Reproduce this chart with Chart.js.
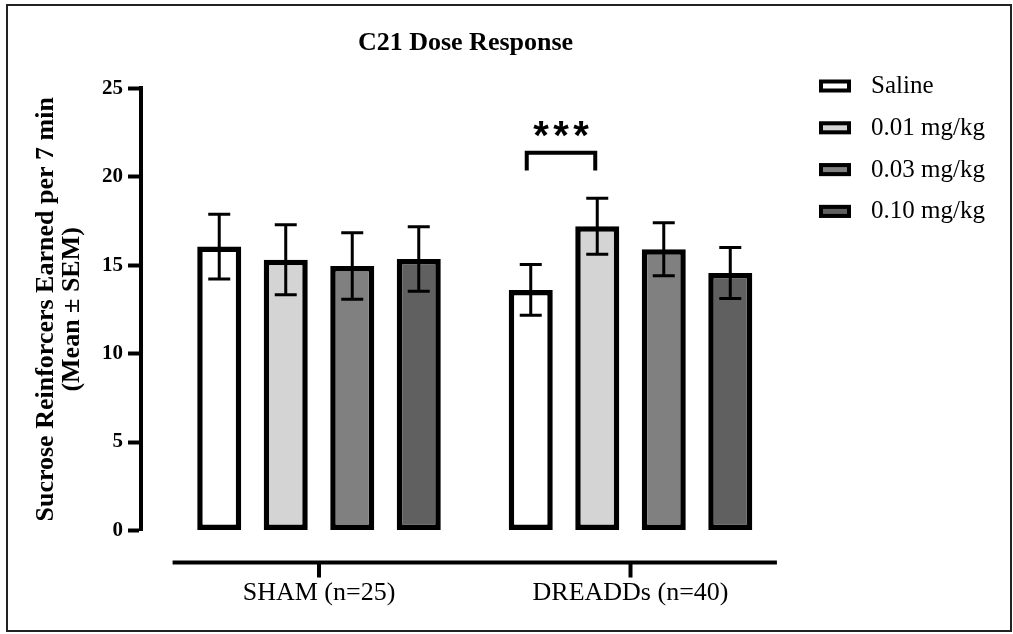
<!DOCTYPE html>
<html>
<head>
<meta charset="utf-8">
<script src="https://cdn.jsdelivr.net/npm/chart.js@4.4.0/dist/chart.umd.min.js"></script>
<style>
  html, body { margin: 0; padding: 0; background: #fff; }
  #caixa { position: relative; width: 1013px; height: 634px; }
  #grafico { display: block; }
  #moldura { position: absolute; left: 6px; top: 4px; width: 1002px; height: 624px; border: 2px solid #222; pointer-events: none; }
</style>
</head>
<body>
<div id="caixa">
  <canvas id="grafico" width="1013" height="634"></canvas>
  <div id="moldura"></div>
</div>
<script>
// Grupos e doses
const grupos = ['SHAM (n=25)', 'DREADDs (n=40)']
const doses = ['Saline', '0.01 mg/kg', '0.03 mg/kg', '0.10 mg/kg']

// Médias e SEM por dose (SHAM, DREADDs)
const mediaSalina = [16.05, 13.6]
const semSalina = [1.83, 1.44]
const media001 = [15.3, 17.2]
const sem001 = [1.98, 1.58]
const media003 = [14.95, 15.9]
const sem003 = [1.88, 1.5]
const media010 = [15.35, 14.55]
const sem010 = [1.82, 1.44]

// Ticks do eixo Y
const ticksY = [0, 5, 10, 15, 20, 25]

// Comparação significativa: DREADDs, Saline x 0.01 mg/kg
const sigGrupo = 1
const sigPar = [0, 1]
const sigTexto = '***'
const sigTopo = 21.35
const sigPerna = 20.35
const sigEstrelas = 22.85

const medias = [mediaSalina, media001, media003, media010]
const sems = [semSalina, sem001, sem003, sem010]
const cores = ['#ffffff', '#d4d4d4', '#808080', '#606060']

const fonteSerif = "'Liberation Serif', 'Times New Roman', serif"
Chart.defaults.font.family = fonteSerif
Chart.defaults.color = '#000'

// barras de erro, colchete, eixo X e legenda
const anotacoes = {
  id: 'anotacoes',
  afterDatasetsDraw(chart) {
    const { ctx, chartArea, scales: { x, y } } = chart
    ctx.save()
    ctx.strokeStyle = '#000'
    ctx.lineCap = 'butt'

    // SEM
    ctx.lineWidth = 3
    chart.data.datasets.forEach((ds, k) => {
      chart.getDatasetMeta(k).data.forEach((barra, i) => {
        const m = ds.data[i].y
        const topo = y.getPixelForValue(m + ds.sem[i])
        const base = y.getPixelForValue(m - ds.sem[i])
        ctx.beginPath()
        ctx.moveTo(barra.x, topo); ctx.lineTo(barra.x, base)
        ctx.moveTo(barra.x - 11, topo); ctx.lineTo(barra.x + 11, topo)
        ctx.moveTo(barra.x - 11, base); ctx.lineTo(barra.x + 11, base)
        ctx.stroke()
      })
    })

    // colchete ***
    const xa = chart.getDatasetMeta(sigPar[0]).data[sigGrupo].x - 4
    const xb = chart.getDatasetMeta(sigPar[1]).data[sigGrupo].x - 2
    const yt = y.getPixelForValue(sigTopo)
    const yp = y.getPixelForValue(sigPerna)
    ctx.lineWidth = 4
    ctx.lineJoin = 'miter'
    ctx.beginPath()
    ctx.moveTo(xa, yp); ctx.lineTo(xa, yt); ctx.lineTo(xb, yt); ctx.lineTo(xb, yp)
    ctx.stroke()
    const xc = (xa + xb) / 2
    const ye = y.getPixelForValue(sigEstrelas)
    ctx.fillStyle = '#000'
    ctx.font = "bold 40px 'Liberation Sans', Arial, sans-serif"
    ctx.textAlign = 'center'
    ctx.textBaseline = 'alphabetic'
    sigTexto.split('').forEach((s, i) => {
      ctx.fillText(s, xc + (i - 1) * 20, ye + 0.58 * 40)
    })

    // eixo X separado do zero
    const yLinha = chartArea.bottom + 32
    ctx.lineWidth = 4
    ctx.beginPath()
    ctx.moveTo(x.getPixelForValue(-0.47), yLinha)
    ctx.lineTo(x.getPixelForValue(1.47), yLinha)
    grupos.forEach((g, i) => {
      const px = x.getPixelForValue(i)
      ctx.moveTo(px, yLinha)
      ctx.lineTo(px, yLinha + 15)
    })
    ctx.stroke()

    // legenda
    const legX = 819, legY = 79.5, passo = 41.8
    ctx.textAlign = 'left'
    ctx.font = '25px ' + fonteSerif
    chart.data.datasets.forEach((ds, k) => {
      const topo = legY + k * passo
      ctx.fillStyle = ds.backgroundColor
      ctx.fillRect(legX, topo, 32, 13)
      ctx.lineWidth = 4
      ctx.strokeRect(legX + 2, topo + 2, 28, 9)
      ctx.fillStyle = '#000'
      ctx.fillText(ds.label, 871, topo + 13.5)
    })
    ctx.restore()
  }
}

const ctx = document.getElementById('grafico')
new Chart(ctx, {
  type: 'bar',
  data: {
    datasets: doses.map((d, k) => ({
      label: d,
      data: grupos.map((g, i) => ({ x: i, y: medias[k][i] })),
      sem: sems[k],
      backgroundColor: cores[k],
      borderColor: '#000',
      borderWidth: 5.5,
      borderSkipped: false,
      categoryPercentage: 0.854,
      barPercentage: 0.662
    }))
  },
  options: {
    responsive: false,
    animation: false,
    layout: { padding: { top: 20, right: 223, bottom: 0, left: 0 } },
    plugins: {
      legend: { display: false },
      tooltip: { enabled: false },
      title: {
        display: true,
        text: 'C21 Dose Response',
        fullSize: false,
        color: '#000',
        font: { size: 26, weight: 'bold' },
        padding: { top: 8, bottom: 29 }
      }
    },
    scales: {
      x: {
        type: 'linear',
        offset: false,
        min: -0.5714,
        max: 1.512,
        grid: { display: false, drawTicks: false, offset: false },
        border: { display: false },
        afterBuildTicks: s => { s.ticks = grupos.map((g, i) => ({ value: i })) },
        afterFit: s => { s.height = 103.5 },
        ticks: {
          autoSkip: false,
          maxRotation: 0,
          padding: 47,
          font: { size: 26 },
          callback: v => grupos[v]
        }
      },
      y: {
        min: 0,
        max: 25,
        afterBuildTicks: s => { s.ticks = ticksY.map(v => ({ value: v })) },
        afterFit: s => { s.width = 141 },
        grid: { drawOnChartArea: false, drawTicks: true, tickLength: 13, tickWidth: 4, tickColor: '#000' },
        border: { display: true, width: 4, color: '#000' },
        ticks: { padding: 5, font: { size: 21, weight: 'bold' } },
        title: {
          display: true,
          text: ['Sucrose Reinforcers Earned per 7 min', '(Mean \u00b1 SEM)'],
          font: { size: 26, weight: 'bold', lineHeight: 1 },
          padding: { top: 33, bottom: 0 }
        }
      }
    }
  },
  plugins: [anotacoes]
})
</script>
</body>
</html>
